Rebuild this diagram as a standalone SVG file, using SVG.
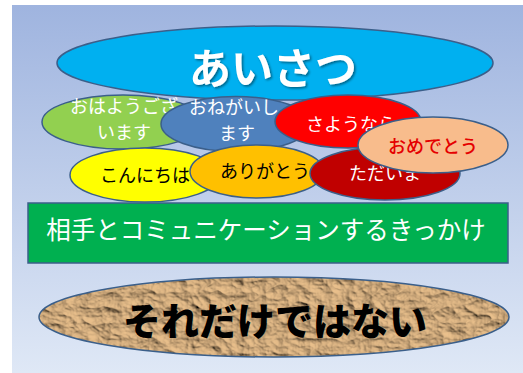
<svg xmlns="http://www.w3.org/2000/svg" width="523" height="373" viewBox="0 0 523 373">
<defs>
<linearGradient id="bg" x1="0" y1="0" x2="0" y2="1">
<stop offset="0" stop-color="#9FB4DF"/>
<stop offset="1" stop-color="#DFE8F6"/>
</linearGradient>
<filter id="shadow" x="-10%" y="-10%" width="130%" height="140%">
<feDropShadow dx="1.5" dy="1.5" stdDeviation="1" flood-color="#000" flood-opacity="0.45"/>
</filter>
<filter id="paper" x="0" y="0" width="100%" height="100%">
<feTurbulence type="turbulence" baseFrequency="0.045 0.065" numOctaves="4" seed="11" result="n"/>
<feDiffuseLighting in="n" surfaceScale="3.5" diffuseConstant="1.1" lighting-color="#E0B886" result="light">
<feDistantLight azimuth="135" elevation="48"/>
</feDiffuseLighting>
<feComposite in="light" in2="SourceGraphic" operator="in"/>
</filter>
<style>
.e{stroke:#3B5F8A;stroke-width:1.5}
.t{font-family:"Noto Sans CJK JP","Noto Sans",sans-serif;text-anchor:middle;dominant-baseline:central}
.s{font-size:18px}
.w{fill:#FFFFFF}
.k{fill:#000000}
</style>
</defs>
<rect x="0" y="0" width="523" height="373" fill="#FFFFFF"/>
<rect x="12" y="5" width="511" height="368" fill="url(#bg)"/>

<g id="aisatsu">
<ellipse class="e" cx="275" cy="63" rx="218" ry="37" fill="#00B0F0"/>
<text class="t w" x="273" y="65" font-size="42" font-weight="700" filter="url(#shadow)">あいさつ</text>
</g>
<g id="ohayou">
<ellipse class="e" cx="123" cy="122" rx="81" ry="27" fill="#92D050"/>
<text class="t s w" x="124" y="105">おはようござ</text>
<text class="t s w" x="124" y="131">います</text>
</g>
<g id="onegai">
<ellipse class="e" cx="236" cy="124" rx="75" ry="27.5" fill="#4F81BD"/>
<text class="t s w" x="234" y="106">おねがいし</text>
<text class="t s w" x="237" y="132">ます</text>
</g>
<g id="sayounara">
<ellipse class="e" cx="348" cy="121.5" rx="73" ry="26.5" fill="#FF0000"/>
<text class="t s w" x="351" y="123">さようなら</text>
</g>
<g id="konnichiwa">
<ellipse class="e" cx="145" cy="175" rx="75" ry="27" fill="#FFFF00"/>
<text class="t s k" x="145" y="174">こんにちは</text>
</g>
<g id="arigatou">
<ellipse class="e" cx="257" cy="171.5" rx="67" ry="26.5" fill="#FFC000"/>
<text class="t s k" x="265" y="170">ありがとう</text>
</g>
<g id="tadaima">
<ellipse class="e" cx="385" cy="173.5" rx="75" ry="26.5" fill="#C00000"/>
<text class="t s w" x="385" y="172">ただいま</text>
</g>
<g id="omedetou">
<ellipse class="e" cx="433" cy="145" rx="75" ry="28" fill="#F8BC8C"/>
<text class="t s" x="433" y="145" fill="#E50000" font-weight="500">おめでとう</text>
</g>
<g id="kikkake">
<rect x="28" y="203" width="480" height="60" fill="#00B050" stroke="#3B5F8A" stroke-width="1.5"/>
<text class="t w" x="266" y="228" font-size="24.5">相手とコミュニケーションするきっかけ</text>
</g>
<g id="soredake">
<ellipse cx="274" cy="317" rx="235" ry="40" fill="#B08A5E" filter="url(#paper)"/>
<ellipse cx="274" cy="317" rx="235" ry="40" fill="none" stroke="#3B5F8A" stroke-width="1.5"/>
<text class="t k" x="275" y="318" font-size="38" font-weight="900">それだけではない</text>
</g>
</svg>
